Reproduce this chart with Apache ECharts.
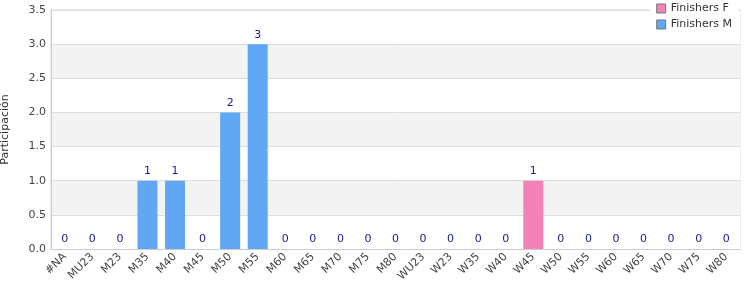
<!DOCTYPE html>
<html><head><meta charset="utf-8">
<script src="https://cdn.jsdelivr.net/npm/echarts@6/dist/echarts.min.js"></script>
<style>html,body{margin:0;padding:0;background:#fff}#c{width:750px;height:300px}</style>
</head><body><div id="c"></div>
<script>
const categories = ['#NA','MU23','M23','M35','M40','M45','M50','M55','M60','M65','M70','M75','M80','WU23','W23','W35','W40','W45','W50','W55','W60','W65','W70','W75','W80'];
const finishersF = [0,0,0,0,0,0,0,0,0,0,0,0,0,0,0,0,0,1,0,0,0,0,0,0,0];
const finishersM = [0,0,0,1,1,0,2,3,0,0,0,0,0,0,0,0,0,0,0,0,0,0,0,0,0];
const yTicks = [0, 0.5, 1.0, 1.5, 2.0, 2.5, 3.0, 3.5];
const totals = categories.map((c,i)=>finishersF[i]+finishersM[i]);
const font = 'DejaVu Sans';
const chart = echarts.init(document.getElementById('c'), null, {renderer:'canvas'});
chart.setOption({
  animation:false,
  textStyle:{fontFamily:font},
  grid:{left:51,right:10,top:10,bottom:51,show:true,borderColor:'#ddd',borderWidth:1,containLabel:false,outerBoundsMode:'none'},
  legend:{
    orient:'vertical', right:12, top:2, itemWidth:9, itemHeight:9, itemGap:5,
    backgroundColor:'#fff', padding:[1,6,1,6],
    icon:'rect',
    textStyle:{fontFamily:font,fontSize:11,color:'#333'},
    data:[{name:'Finishers F',itemStyle:{borderColor:'#777',borderWidth:1}},{name:'Finishers M',itemStyle:{borderColor:'#777',borderWidth:1}}]
  },
  xAxis:{
    type:'category', data:categories,
    axisLine:{show:true,lineStyle:{color:'#ccc'}},
    axisTick:{show:false},
    axisLabel:{rotate:45,interval:0,fontFamily:font,fontSize:11,color:'#444',margin:6}
  },
  yAxis:{
    type:'value', min:yTicks[0], max:yTicks[yTicks.length-1], interval:0.5,
    name:'Participación', nameLocation:'middle', nameGap:40, nameRotate:90,
    nameTextStyle:{fontFamily:font,fontSize:11,color:'#333'},
    axisLine:{show:true,lineStyle:{color:'#ccc'}},
    axisTick:{show:false},
    axisLabel:{fontFamily:font,fontSize:11,color:'#444',formatter:v=>v.toFixed(1),margin:5},
    splitLine:{show:true,lineStyle:{color:'#ddd'}},
    splitArea:{show:true,areaStyle:{color:['#fff','#f3f3f3']}}
  },
  series:[
    {name:'Finishers F',type:'bar',stack:'t',data:finishersF,barWidth:20,itemStyle:{color:'#f183b9'}},
    {name:'Finishers M',type:'bar',stack:'t',data:finishersM,barWidth:20,itemStyle:{color:'#60a8f4'},
      label:{show:true,position:'top',distance:4,color:'#1a1a8c',fontFamily:font,fontSize:11,
        formatter:p=>String(totals[p.dataIndex])}}
  ]
});
</script></body></html>
